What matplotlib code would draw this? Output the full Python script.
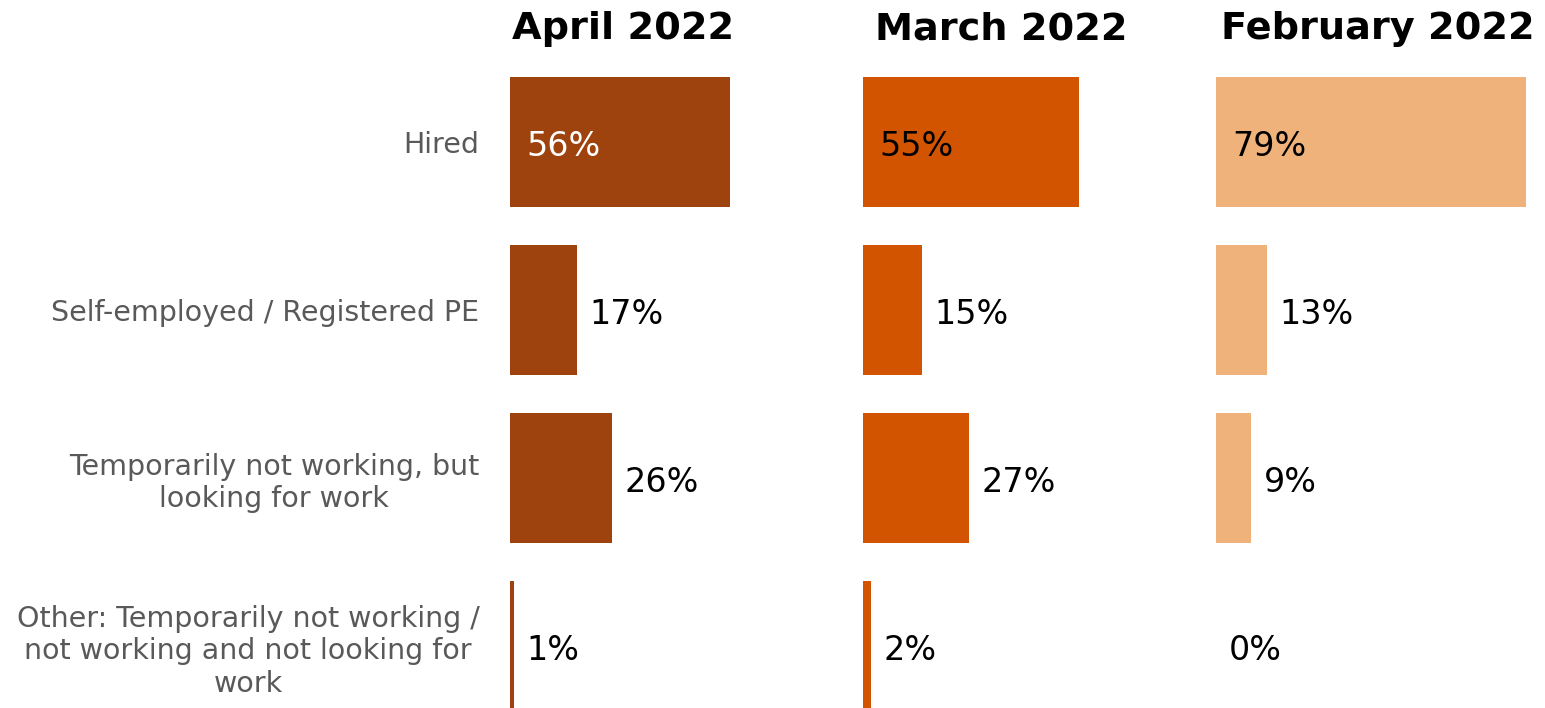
import matplotlib.pyplot as plt
import matplotlib.transforms as mtransforms

# Data
categories = ['Hired', 'Self-employed / Registered PE',
              'Temporarily not working, but\nlooking for work',
              'Other: Temporarily not working /\nnot working and not looking for\nwork']
months = ['April 2022', 'March 2022', 'February 2022']
april = [56, 17, 26, 1]
march = [55, 15, 27, 2]
february = [79, 13, 9, 0]
series = [april, march, february]
colors = ['#9E430D', '#D35400', '#F0B27B']
inside_label_colors = ['white', 'black', 'black']

plt.rcParams['font.family'] = ['DejaVu Sans']

W, H = 1545, 708
fig = plt.figure(figsize=(W / 100, H / 100), dpi=100)

# layout (pixels)
ax_left = [510, 863, 1216]
ax_width = 329
px_per_pct = 3.92
row0 = 142
row_step = 168
bar_h = 130 / row_step
title_centers = [623, 1001, 1378]

ymin = -row0 / row_step
ymax = (H - row0) / row_step

for i, (vals, col) in enumerate(zip(series, colors)):
    ax = fig.add_axes([ax_left[i] / W, 0, ax_width / W, 1])
    y = list(range(len(categories)))
    ax.barh(y, vals, height=bar_h, color=col, edgecolor='none')
    ax.set_xlim(0, ax_width / px_per_pct)
    ax.set_ylim(ymax, ymin)
    for s in ax.spines.values():
        s.set_visible(False)
    ax.set_xticks([])
    if i == 0:
        ax.set_yticks(y, categories)
        ax.tick_params(axis='y', length=0, pad=22, labelsize=20.5,
                       labelcolor='#595959')
        for t in ax.get_yticklabels():
            t.set_multialignment('center')
            t.set_linespacing(1.2)
    else:
        ax.set_yticks([])

    for j, v in enumerate(vals):
        if j == 0:
            off = mtransforms.offset_copy(ax.transData, fig=fig, x=12, y=-3,
                                          units='points')
            ax.text(0, j, f'{v}%', transform=off, ha='left', va='center',
                    fontsize=24, color=inside_label_colors[i])
        else:
            off = mtransforms.offset_copy(ax.transData, fig=fig, x=9, y=-3,
                                          units='points')
            ax.text(v, j, f'{v}%', transform=off, ha='left', va='center',
                    fontsize=24, color='black')

    fig.text(title_centers[i] / W, 1 - 29 / H, months[i], ha='center',
             va='center', fontsize=27.5, fontweight='bold', color='black')

fig.savefig('out.png', dpi=100)
